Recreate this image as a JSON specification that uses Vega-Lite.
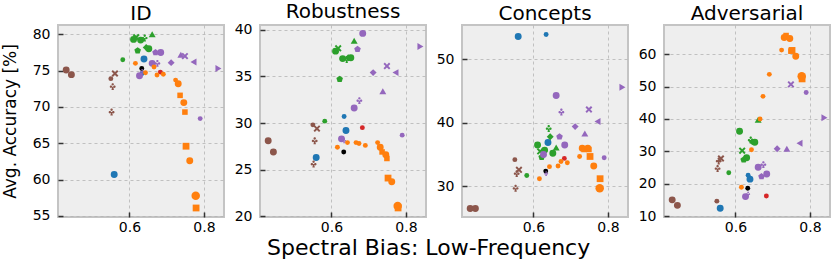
{
  "$schema": "https://vega.github.io/schema/vega-lite/v6.json",
  "background": "white",
  "padding": 0,
  "autosize": {"type": "pad"},
  "bounds": "flush",
  "spacing": 36,
  "title": {"text": "Spectral Bias: Low-Frequency", "orient": "bottom", "anchor": "middle", "font": "DejaVu Sans", "fontSize": 22, "fontWeight": "normal", "color": "black", "offset": 3, "dx": 13},
  "config": {
    "font": "DejaVu Sans",
    "view": {"stroke": "#c4c4c4", "strokeWidth": 2, "fill": "#eeeeee"},
    "title": {"font": "DejaVu Sans", "fontSize": 20, "fontWeight": "normal", "color": "black", "offset": 1},
    "axis": {"domain": false, "grid": true, "gridDash": [3, 3], "gridColor": "#b4b4b4", "gridWidth": 0.8, "labelFont": "DejaVu Sans", "labelFontSize": 14, "labelColor": "black", "tickColor": "#333333", "tickWidth": 1.5, "tickSize": -5, "labelPadding": 13, "titleFont": "DejaVu Sans", "titleFontSize": 17, "titleFontWeight": "normal", "titleColor": "black"},
    "axisX": {"labelPadding": 8}
  },
  "data": {"values": [
    {"x": 0.430, "ID": 75.1, "Rob": 28.1, "Con": 26.5, "Adv": 15.0, "fam": "a", "mk": "m1", "sc": "M"},
    {"x": 0.444, "ID": 74.45, "Rob": 26.9, "Con": 26.5, "Adv": 13.3, "fam": "a", "mk": "m1", "sc": "M"},
    {"x": 0.561, "ID": 74.6, "Rob": 29.4, "Con": 32.6, "Adv": 27.8, "fam": "a", "mk": "m7", "sc": "M"},
    {"x": 0.550, "ID": 73.9, "Rob": 29.8, "Con": 34.2, "Adv": 14.6, "fam": "a", "mk": "m1", "sc": "S"},
    {"x": 0.555, "ID": 72.8, "Rob": 28.1, "Con": 32.0, "Adv": 27.0, "fam": "a", "mk": "m9", "sc": "M"},
    {"x": 0.552, "ID": 69.3, "Rob": 25.6, "Con": 29.7, "Adv": 24.7, "fam": "a", "mk": "m9", "sc": "M"},
    {"x": 0.639, "ID": 76.6, "Rob": 29.2, "Con": 36.9, "Adv": 21.4, "fam": "b", "mk": "m1", "sc": "M"},
    {"x": 0.559, "ID": 60.7, "Rob": 26.3, "Con": 53.6, "Adv": 12.4, "fam": "b", "mk": "m1", "sc": "M"},
    {"x": 0.634, "ID": 74.6, "Rob": 30.7, "Con": 53.9, "Adv": 22.6, "fam": "b", "mk": "m1", "sc": "S"},
    {"x": 0.661, "ID": 80.0, "Rob": 38.8, "Con": 36.1, "Adv": 39.8, "fam": "c", "mk": "m3", "sc": "M"},
    {"x": 0.622, "ID": 77.75, "Rob": 34.7, "Con": 34.6, "Adv": 27.4, "fam": "c", "mk": "m8", "sc": "M"},
    {"x": 0.645, "ID": 78.2, "Rob": 37.0, "Con": 37.8, "Adv": 33.0, "fam": "c", "mk": "m6", "sc": "M"},
    {"x": 0.582, "ID": 76.5, "Rob": 30.2, "Con": 31.7, "Adv": 23.4, "fam": "c", "mk": "m1", "sc": "S"},
    {"x": 0.618, "ID": 79.6, "Rob": 38.0, "Con": 35.5, "Adv": 30.2, "fam": "c", "mk": "m7", "sc": "M"},
    {"x": 0.611, "ID": 79.3, "Rob": 37.7, "Con": 36.5, "Adv": 36.2, "fam": "c", "mk": "m1", "sc": "M"},
    {"x": 0.630, "ID": 79.2, "Rob": 36.9, "Con": 35.7, "Adv": 28.0, "fam": "c", "mk": "m1", "sc": "M"},
    {"x": 0.641, "ID": 79.5, "Rob": 36.8, "Con": 39.1, "Adv": 33.5, "fam": "c", "mk": "m9", "sc": "M"},
    {"x": 0.652, "ID": 78.0, "Rob": 37.0, "Con": 35.2, "Adv": 32.8, "fam": "c", "mk": "m1", "sc": "M"},
    {"x": 0.633, "ID": 75.3, "Rob": 26.9, "Con": 32.4, "Adv": 18.6, "fam": "d", "mk": "m1", "sc": "S"},
    {"x": 0.683, "ID": 74.8, "Rob": 29.5, "Con": 34.4, "Adv": 16.2, "fam": "e", "mk": "m1", "sc": "S"},
    {"x": 0.684, "ID": 77.5, "Rob": 39.6, "Con": 36.5, "Adv": 23.0, "fam": "f", "mk": "m1", "sc": "M"},
    {"x": 0.670, "ID": 77.5, "Rob": 37.9, "Con": 37.8, "Adv": 22.2, "fam": "f", "mk": "m8", "sc": "M"},
    {"x": 0.661, "ID": 76.0, "Rob": 31.6, "Con": 44.3, "Adv": 25.1, "fam": "f", "mk": "m1", "sc": "M"},
    {"x": 0.675, "ID": 76.0, "Rob": 32.4, "Con": 41.7, "Adv": 25.9, "fam": "f", "mk": "m9", "sc": "M"},
    {"x": 0.712, "ID": 76.1, "Rob": 35.4, "Con": 39.4, "Adv": 30.8, "fam": "f", "mk": "m6", "sc": "M"},
    {"x": 0.749, "ID": 77.0, "Rob": 36.1, "Con": 42.1, "Adv": 50.7, "fam": "f", "mk": "m7", "sc": "M"},
    {"x": 0.738, "ID": 77.2, "Rob": 33.4, "Con": 38.3, "Adv": 30.8, "fam": "f", "mk": "m3", "sc": "M"},
    {"x": 0.772, "ID": 76.2, "Rob": 35.4, "Con": 40.2, "Adv": 32.5, "fam": "f", "mk": "m4", "sc": "M"},
    {"x": 0.839, "ID": 75.3, "Rob": 38.2, "Con": 45.6, "Adv": 40.4, "fam": "f", "mk": "m5", "sc": "M"},
    {"x": 0.627, "ID": 74.3, "Rob": 28.3, "Con": 35.0, "Adv": 16.0, "fam": "f", "mk": "m1", "sc": "M"},
    {"x": 0.634, "ID": 74.9, "Rob": 28.1, "Con": 32.0, "Adv": 16.8, "fam": "f", "mk": "m9", "sc": "S"},
    {"x": 0.790, "ID": 68.4, "Rob": 28.7, "Con": 34.5, "Adv": 48.2, "fam": "f", "mk": "m1", "sc": "S"},
    {"x": 0.616, "ID": 76.0, "Rob": 27.4, "Con": 31.2, "Adv": 18.9, "fam": "g", "mk": "m1", "sc": "S"},
    {"x": 0.643, "ID": 74.7, "Rob": 27.9, "Con": 33.1, "Adv": 30.5, "fam": "g", "mk": "m1", "sc": "S"},
    {"x": 0.666, "ID": 75.5, "Rob": 27.9, "Con": 33.2, "Adv": 40.0, "fam": "g", "mk": "m1", "sc": "S"},
    {"x": 0.674, "ID": 74.4, "Rob": 27.8, "Con": 33.9, "Adv": 47.0, "fam": "g", "mk": "m1", "sc": "S"},
    {"x": 0.691, "ID": 74.5, "Rob": 27.6, "Con": 33.7, "Adv": 53.8, "fam": "g", "mk": "m1", "sc": "S"},
    {"x": 0.724, "ID": 73.7, "Rob": 27.9, "Con": 34.7, "Adv": 61.3, "fam": "g", "mk": "m1", "sc": "S"},
    {"x": 0.731, "ID": 73.2, "Rob": 27.4, "Con": 36.0, "Adv": 65.2, "fam": "g", "mk": "m1", "sc": "M"},
    {"x": 0.736, "ID": 71.6, "Rob": 26.9, "Con": 35.8, "Adv": 65.8, "fam": "g", "mk": "m2", "sc": "M"},
    {"x": 0.746, "ID": 70.6, "Rob": 26.6, "Con": 36.0, "Adv": 64.9, "fam": "g", "mk": "m1", "sc": "M"},
    {"x": 0.749, "ID": 69.3, "Rob": 26.2, "Con": 35.8, "Adv": 61.0, "fam": "g", "mk": "m2", "sc": "M"},
    {"x": 0.752, "ID": 64.6, "Rob": 24.1, "Con": 34.7, "Adv": 61.2, "fam": "g", "mk": "m2", "sc": "L"},
    {"x": 0.762, "ID": 62.6, "Rob": 23.7, "Con": 33.2, "Adv": 59.4, "fam": "g", "mk": "m1", "sc": "M"},
    {"x": 0.778, "ID": 57.8, "Rob": 21.1, "Con": 29.7, "Adv": 53.2, "fam": "g", "mk": "m1", "sc": "L"},
    {"x": 0.779, "ID": 56.1, "Rob": 20.9, "Con": 31.2, "Adv": 52.4, "fam": "g", "mk": "m2", "sc": "L"}
  ]},
  "hconcat": [
    {
      "width": 166, "height": 192,
      "title": "ID",
      "mark": {"type": "point", "filled": true, "opacity": 1},
      "encoding": {
        "x": {"field": "x", "type": "quantitative", "scale": {"domain": [0.408, 0.854], "nice": false, "zero": false}, "axis": {"values": [0.6, 0.8], "format": ".1f", "title": null}},
        "y": {"field": "ID", "type": "quantitative", "scale": {"domain": [54.86, 81.28], "nice": false, "zero": false}, "axis": {"values": [55, 60, 65, 70, 75, 80], "title": "Avg. Accuracy [%]", "titlePadding": 13}},
        "color": {"field": "fam", "type": "nominal", "scale": {"domain": ["a", "b", "c", "d", "e", "f", "g"], "range": ["#8c564b", "#1f77b4", "#2ca02c", "#000000", "#d62728", "#9467bd", "#ff7f0e"]}, "legend": null},
        "shape": {"field": "mk", "type": "nominal", "scale": {"domain": ["m1", "m2", "m3", "m4", "m5", "m6", "m7", "m8", "m9"], "range": ["circle", "M-0.8,-0.8L0.8,-0.8L0.8,0.8L-0.8,0.8Z", "triangle-up", "triangle-left", "triangle-right", "diamond", "M-1,-0.6L-0.6,-1L0,-0.4L0.6,-1L1,-0.6L0.4,0L1,0.6L0.6,1L0,0.4L-0.6,1L-1,0.6L-0.4,0Z", "M0,-1L0.951,-0.309L0.588,0.809L-0.588,0.809L-0.951,-0.309Z", "M0,-1A0.35,0.35 0 1 1 0,-0.3A0.35,0.35 0 1 1 0,-1ZM-0.5,-0.3A0.35,0.35 0 1 1 -0.5,0.4A0.35,0.35 0 1 1 -0.5,-0.3ZM0.5,-0.3A0.35,0.35 0 1 1 0.5,0.4A0.35,0.35 0 1 1 0.5,-0.3ZM-0.15,0L0.15,0L0.35,1L-0.35,1Z"]}, "legend": null},
        "size": {"field": "sc", "type": "nominal", "scale": {"domain": ["S", "M", "L"], "range": [24, 72, 115]}, "legend": null}
      }
    },
    {
      "width": 166, "height": 192,
      "title": "Robustness",
      "mark": {"type": "point", "filled": true, "opacity": 1},
      "encoding": {
        "x": {"field": "x", "type": "quantitative", "scale": {"domain": [0.408, 0.854], "nice": false, "zero": false}, "axis": {"values": [0.6, 0.8], "format": ".1f", "title": null}},
        "y": {"field": "Rob", "type": "quantitative", "scale": {"domain": [19.93, 40.5], "nice": false, "zero": false}, "axis": {"values": [20, 25, 30, 35, 40], "title": null}},
        "color": {"field": "fam", "type": "nominal", "legend": null},
        "shape": {"field": "mk", "type": "nominal", "legend": null},
        "size": {"field": "sc", "type": "nominal", "legend": null}
      }
    },
    {
      "width": 166, "height": 192,
      "title": "Concepts",
      "mark": {"type": "point", "filled": true, "opacity": 1},
      "encoding": {
        "x": {"field": "x", "type": "quantitative", "scale": {"domain": [0.408, 0.854], "nice": false, "zero": false}, "axis": {"values": [0.6, 0.8], "format": ".1f", "title": null}},
        "y": {"field": "Con", "type": "quantitative", "scale": {"domain": [25.17, 55.4], "nice": false, "zero": false}, "axis": {"values": [30, 40, 50], "title": null}},
        "color": {"field": "fam", "type": "nominal", "legend": null},
        "shape": {"field": "mk", "type": "nominal", "legend": null},
        "size": {"field": "sc", "type": "nominal", "legend": null}
      }
    },
    {
      "width": 166, "height": 192,
      "title": "Adversarial",
      "mark": {"type": "point", "filled": true, "opacity": 1},
      "encoding": {
        "x": {"field": "x", "type": "quantitative", "scale": {"domain": [0.408, 0.854], "nice": false, "zero": false}, "axis": {"values": [0.6, 0.8], "format": ".1f", "title": null}},
        "y": {"field": "Adv", "type": "quantitative", "scale": {"domain": [9.7, 69.06], "nice": false, "zero": false}, "axis": {"values": [10, 20, 30, 40, 50, 60], "title": null}},
        "color": {"field": "fam", "type": "nominal", "legend": null},
        "shape": {"field": "mk", "type": "nominal", "legend": null},
        "size": {"field": "sc", "type": "nominal", "legend": null}
      }
    }
  ]
}
